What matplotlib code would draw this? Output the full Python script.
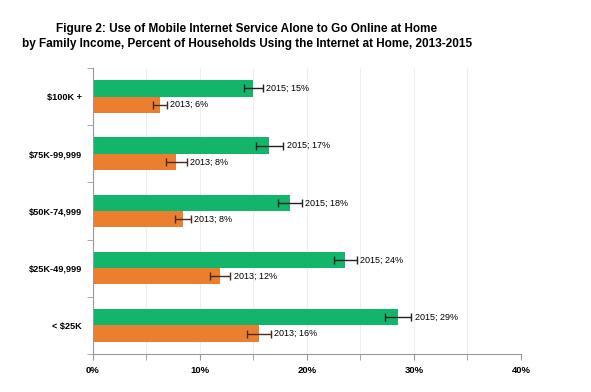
import matplotlib
matplotlib.use("Agg")
import matplotlib.pyplot as plt
import numpy as np
from matplotlib.ticker import MultipleLocator, FixedLocator

plt.rcParams['font.family'] = ['Liberation Sans', 'DejaVu Sans']

# data, top to bottom
categories = ["$100K +", "$75K-99,999", "$50K-74,999", "$25K-49,999", "< $25K"]
values_2015 = [15.0, 16.5, 18.4, 23.6, 28.5]
errors_2015 = [0.9, 1.3, 1.1, 1.1, 1.25]
values_2013 = [6.3, 7.8, 8.4, 11.9, 15.5]
errors_2013 = [0.65, 1.0, 0.75, 0.95, 1.1]
labels_2015 = ["2015; 15%", "2015; 17%", "2015; 18%", "2015; 24%", "2015; 29%"]
labels_2013 = ["2013; 6%", "2013; 8%", "2013; 8%", "2013; 12%", "2013; 16%"]

green = "#13B56B"
orange = "#EB7F2F"

fig = plt.figure(figsize=(5.91, 3.92), dpi=100)
ax = fig.add_axes([0.157, 0.097, 0.7246, 0.7296])

# bottom category first on the y axis
y = np.arange(len(categories))[::-1]
h = 0.285

ax.barh(y + h / 2, values_2015, height=h, color=green, zorder=2)
ax.barh(y - h / 2, values_2013, height=h, color=orange, zorder=2)
ax.errorbar(values_2015, y + h / 2, xerr=errors_2015, fmt="none",
            ecolor="#222222", elinewidth=1, capsize=3, capthick=1, zorder=3)
ax.errorbar(values_2013, y - h / 2, xerr=errors_2013, fmt="none",
            ecolor="#4a2a1a", elinewidth=1, capsize=3, capthick=1, zorder=3)

for yy, v, e, t in zip(y, values_2015, errors_2015, labels_2015):
    ax.text(v + e + 0.3, yy + h / 2, t, va="center", ha="left", fontsize=6.5)
for yy, v, e, t in zip(y, values_2013, errors_2013, labels_2013):
    ax.text(v + e + 0.3, yy - h / 2, t, va="center", ha="left", fontsize=6.5)

ax.set_xlim(0, 40)
ax.set_ylim(-0.5, len(categories) - 0.5)

ax.xaxis.set_minor_locator(MultipleLocator(5))
ax.set_xticks(np.arange(0, 41, 10))
ax.set_xticklabels([f"{v}%" for v in range(0, 41, 10)], fontsize=6.8, fontweight="bold")
ax.tick_params(axis="x", which="both", length=4, color="#999999", pad=5)
ax.grid(axis="x", which="both", color="#eeeeee", linewidth=0.8, zorder=0)

ax.set_yticks(y)
ax.set_yticklabels(categories, fontsize=6.6, fontweight="bold")
ax.yaxis.set_minor_locator(FixedLocator(np.arange(-0.5, len(categories), 1.0)))
ax.tick_params(axis="y", which="major", length=0, pad=8)
ax.tick_params(axis="y", which="minor", length=4, color="#999999")

for side in ["top", "right"]:
    ax.spines[side].set_visible(False)
for side in ["left", "bottom"]:
    ax.spines[side].set_color("#999999")

fig.text(0.418, 0.907, "Figure 2: Use of Mobile Internet Service Alone to Go Online at Home\n"
         "by Family Income, Percent of Households Using the Internet at Home, 2013-2015",
         ha="center", va="center", fontsize=8.5, fontweight="bold", linespacing=1.4)

fig.savefig("out.png", dpi=100)
